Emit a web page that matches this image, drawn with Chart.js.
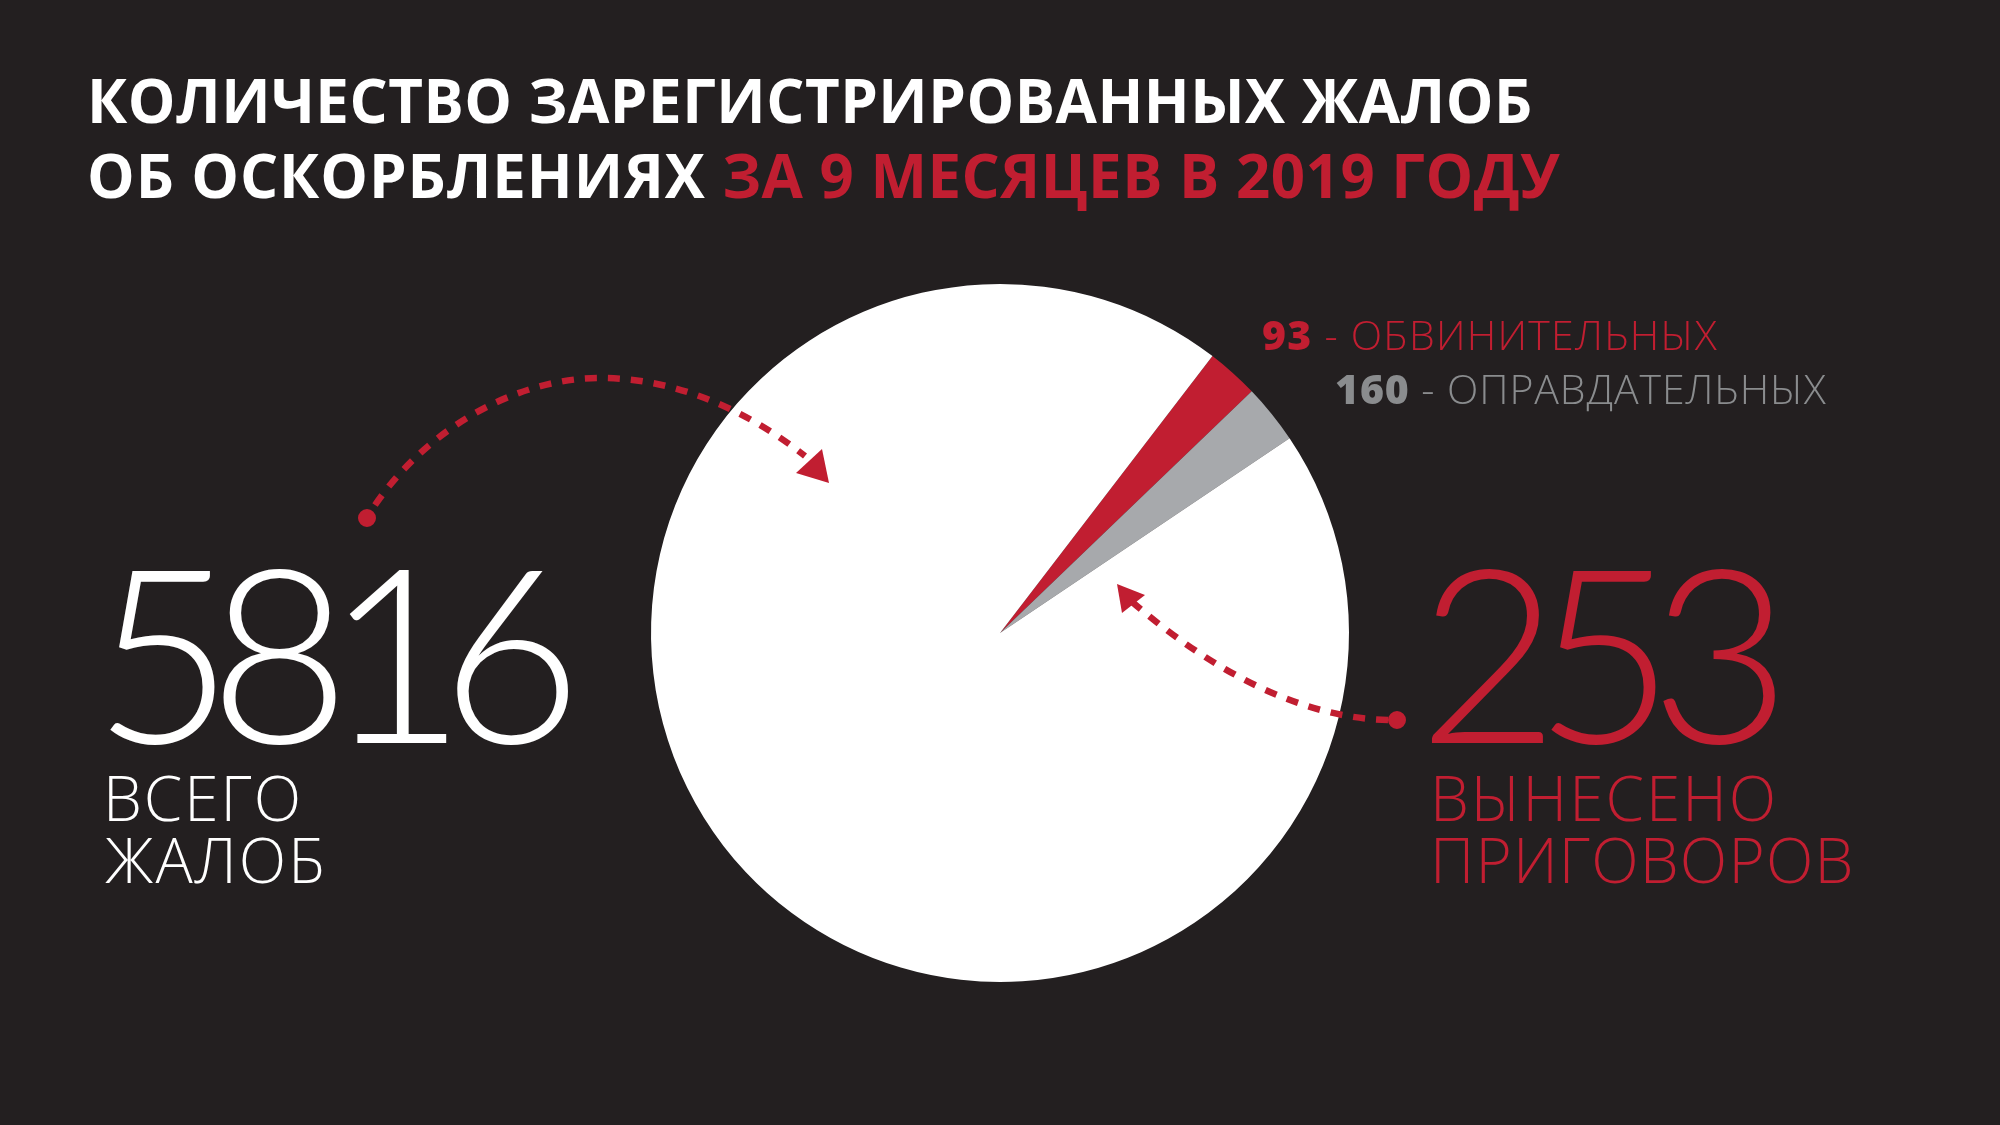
<!DOCTYPE html>
<html lang="ru">
<head>
<meta charset="utf-8">
<title>Жалобы об оскорблениях</title>
<script src="https://cdn.jsdelivr.net/npm/chart.js@4/dist/chart.umd.js"></script>
<style>
  html, body { margin: 0; padding: 0; background: #231f20; }
  #wrap { position: relative; width: 2000px; height: 1125px; overflow: hidden; }
  canvas { position: absolute; left: 0; top: 0; }
  .t { position: absolute; white-space: nowrap; line-height: 1; color: #fff; }
  .title { font: 700 60px "Open Sans", sans-serif; left: 87px; letter-spacing: 0.5px; }
  .big { font: 300 243px "Lato", sans-serif; letter-spacing: -25px; }
  .sub { font: 300 62px "Open Sans", sans-serif; letter-spacing: 2px; }
  .note { font: 300 41px "Open Sans", sans-serif; letter-spacing: 0.9px; }
  .note b { font-weight: 800; }
  .red { color: #c11e31; }
  .grey { color: #8a8c8e; }
</style>
</head>
<body>
<div id="wrap">
  <canvas id="pie" width="2000" height="1125"></canvas>
  <div class="t title" style="top:59px">КОЛИЧЕСТВО ЗАРЕГИСТРИРОВАННЫХ ЖАЛОБ</div>
  <div class="t title" style="top:134px"><span style="letter-spacing:0.9px">ОБ ОСКОРБЛЕНИЯХ </span><span class="red">ЗА 9 МЕСЯЦЕВ В 2019 ГОДУ</span></div>
  <div class="t big" style="left:93px;top:503px">5816</div>
  <div class="t sub" style="left:103px;top:755px">ВСЕГО</div>
  <div class="t sub" style="left:105px;top:817px">ЖАЛОБ</div>
  <div class="t big red" style="left:1418px;top:503px">253</div>
  <div class="t sub red" style="left:1430px;top:755px">ВЫНЕСЕНО</div>
  <div class="t sub red" style="left:1430px;top:817px;letter-spacing:1.2px">ПРИГОВОРОВ</div>
  <div class="t note red" style="left:1262px;top:306px;letter-spacing:1.25px"><b>93</b> - ОБВИНИТЕЛЬНЫХ</div>
  <div class="t note grey" style="left:1335px;top:360px"><b>160</b> - ОПРАВДАТЕЛЬНЫХ</div>
</div>
<script>
// slice sizes as drawn in the picture (the red wedge is wider than 93 of 5816 would be)
const sliceLabels = ['Обвинительные', 'Оправдательные', 'Остальные жалобы'];
const sliceValues = [140, 160, 5516];
const sliceColors = ['#c11e31', '#a7a9ac', '#ffffff'];

const red = '#c11e31';

// dashed arrows pointing at the pie
const arrows = {
    id: 'arrows',
    afterDraw(chart) {
        const ctx = chart.ctx;
        ctx.save();
        ctx.strokeStyle = red;
        ctx.fillStyle = red;

        ctx.lineWidth = 6.5;
        ctx.setLineDash([12, 11]);
        ctx.beginPath();
        ctx.moveTo(375, 505);
        ctx.bezierCurveTo(430, 425, 520, 378, 600, 378);
        ctx.bezierCurveTo(670, 378, 740, 405, 805, 456);
        ctx.stroke();

        ctx.beginPath();
        ctx.moveTo(1388, 720);
        ctx.bezierCurveTo(1300, 718, 1210, 670, 1130, 600);
        ctx.stroke();
        ctx.setLineDash([]);

        // end dots
        ctx.beginPath();
        ctx.arc(367, 518, 9, 0, Math.PI * 2);
        ctx.arc(1397, 720, 9, 0, Math.PI * 2);
        ctx.fill();

        // arrow heads
        ctx.beginPath();
        ctx.moveTo(829, 483);
        ctx.lineTo(822, 449);
        ctx.lineTo(796, 473);
        ctx.closePath();
        ctx.fill();

        ctx.beginPath();
        ctx.moveTo(1117, 584);
        ctx.lineTo(1145, 595);
        ctx.lineTo(1122, 613);
        ctx.closePath();
        ctx.fill();
        ctx.restore();
    }
};

new Chart(document.getElementById('pie'), {
    type: 'pie',
    data: {
        labels: sliceLabels,
        datasets: [{
            data: sliceValues,
            backgroundColor: sliceColors,
            borderWidth: 0
        }]
    },
    options: {
        responsive: false,
        animation: false,
        rotation: 37.5,
        layout: { padding: { top: 284, bottom: 143 } },
        plugins: {
            legend: { display: false },
            tooltip: { enabled: false }
        }
    },
    plugins: [arrows]
});
</script>
</body>
</html>
